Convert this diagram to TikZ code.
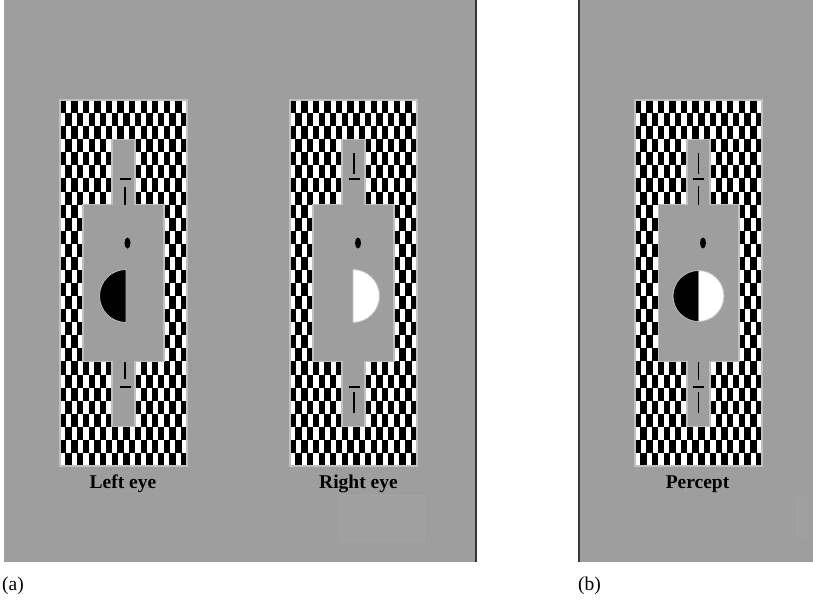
\documentclass[tikz,border=0pt]{standalone}
\usepackage{fontspec}
\setmainfont{Liberation Serif}
\begin{document}
\begin{tikzpicture}[x=1pt,y=-1pt]
\definecolor{bg}{RGB}{158,158,158}
\definecolor{haloc}{RGB}{192,192,192}
\definecolor{sep}{RGB}{55,55,55}
\definecolor{faint}{RGB}{159,159,159}
\definecolor{faintedge}{RGB}{163,163,163}
\tikzset{
  halo/.style={draw=haloc,line width=1.2pt},
  nonius/.style={draw=black,line width=1.8pt},
  dashmark/.style={draw=black,line width=2.6pt},
  lab/.style={anchor=base,inner sep=0pt,font=\fontsize{19.5}{21}\selectfont\bfseries},
  tag/.style={anchor=base west,inner sep=0pt,font=\fontsize{19.5}{21}\selectfont},
}
\newcommand\checkpanel[1]{%
 \begin{scope}[shift={(#1,0)}]
  \fill[white] (0,100) rectangle (127,466);
  \begin{scope}
   \clip (0,100) rectangle (127,466);
   \foreach \r in {0,...,27}{\foreach \c in {0,...,21}{%
     \pgfmathtruncatemacro\p{mod(\r+\c,2)}%
     \ifnum\p=0 \fill[black] ({\c*5.7727-0.3},{100+\r*13.0714}) rectangle ++(6.3727,13.0714);\fi}}
  \end{scope}
  \draw[halo] (0,100) rectangle (127,466);
  \filldraw[fill=bg,halo] (51.95,139.21) -- (75.05,139.21) -- (75.05,204.57) -- (103.91,204.57)
     -- (103.91,361.43) -- (75.05,361.43) -- (75.05,426.79) -- (51.95,426.79) -- (51.95,361.43)
     -- (23.09,361.43) -- (23.09,204.57) -- (51.95,204.57) -- cycle;
 \end{scope}}
\useasboundingbox (0,0) rectangle (813,600);
\fill[white] (0,0) rectangle (813,600);
% gray fields
\fill[bg] (4,0) rectangle (476,562);
\fill[bg] (579,0) rectangle (813,562);
\filldraw[fill=faint,draw=faintedge,line width=0.8pt] (340,495) rectangle (425,540);
\filldraw[fill=faint,draw=faintedge,line width=0.8pt] (797,497) rectangle (806,537);
\draw[sep,line width=2pt] (476,0) -- (476,562);
\draw[sep,line width=2pt] (579,0) -- (579,562);
% checker panels
\checkpanel{60}
\checkpanel{290}
\checkpanel{635}
% ---- left eye ----
\fill (127.5,243) ellipse [x radius=3pt, y radius=5.5pt];
\filldraw[fill=black,draw=haloc,line width=0.8pt] (126,269.5) arc[start angle=90,end angle=270,radius=26.5pt] -- cycle;
\draw[dashmark] (119.5,179) -- (130.5,179);
\draw[nonius] (125,187) -- (125,205);
\draw[nonius] (125,362) -- (125,379);
\draw[dashmark] (119.5,387) -- (130.5,387);
% ---- right eye ----
\fill (358,243) ellipse [x radius=3pt, y radius=5.5pt];
\filldraw[fill=white,draw=haloc,line width=0.8pt] (353,269.5) arc[start angle=90,end angle=-90,radius=26.5pt] -- cycle;
\draw[nonius] (354,153) -- (354,174);
\draw[dashmark] (348.5,179) -- (359.5,179);
\draw[dashmark] (348.5,387) -- (359.5,387);
\draw[nonius] (354,392) -- (354,413);
% ---- percept ----
\fill (703,243) ellipse [x radius=3pt, y radius=5.5pt];
\fill[black] (698.5,270.5) arc[start angle=90,end angle=270,radius=25.5pt] -- cycle;
\fill[white] (698.5,270.5) arc[start angle=90,end angle=-90,radius=25.5pt] -- cycle;
\draw[haloc,line width=0.8pt] (698.5,296) circle[radius=25.5pt];
\draw[nonius] (698.5,153) -- (698.5,174);
\draw[dashmark] (693,179) -- (704,179);
\draw[nonius] (698.5,186) -- (698.5,205);
\draw[nonius] (698.5,362) -- (698.5,380);
\draw[dashmark] (693,387) -- (704,387);
\draw[nonius] (698.5,392) -- (698.5,413);
% labels
\node[lab] (lefteye) at (123,488) {Left eye};
\node[lab] (righteye) at (358.5,488) {Right eye};
\node[lab] (percept) at (697.5,488) {Percept};
\node[tag] (taga) at (2,590) {(a)};
\node[tag] (tagb) at (578,590) {(b)};
\end{tikzpicture}
\end{document}
